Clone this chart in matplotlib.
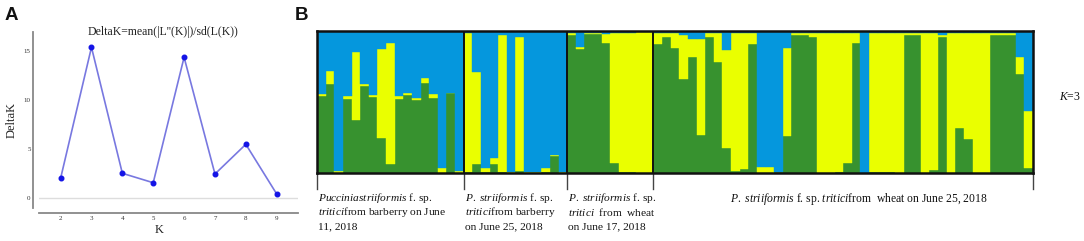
import matplotlib
matplotlib.use("Agg")
import matplotlib.pyplot as plt
import numpy as np

W, H = 1084, 241

plt.rcParams['font.family'] = ['Liberation Serif', 'DejaVu Serif']
plt.rcParams['mathtext.fontset'] = 'custom'
plt.rcParams['mathtext.rm'] = 'Liberation Serif'
plt.rcParams['mathtext.it'] = 'Liberation Serif:italic'

# panel A: Evanno DeltaK
k_values = [2, 3, 4, 5, 6, 7, 8, 9]
delta_k = [1.98, 15.35, 2.49, 1.53, 14.33, 2.42, 5.45, 0.38]

# panel B: STRUCTURE membership (K=3), per individual
group_sizes = [17, 12, 10, 44]
green_q = [
    # barberry, June 11
    0.545, 0.627, 0.0, 0.524, 0.376, 0.611, 0.536, 0.25, 0.066, 0.524, 0.548, 0.517, 0.632, 0.53, 0.0, 0.56, 0.0,
    # barberry, June 25
    0.01, 0.06, 0.01, 0.06, 0.01, 0.0, 0.012, 0.0, 0.0, 0.01, 0.12, 0.0,
    # wheat, June 17
    0.975, 0.875, 0.98, 0.98, 0.912, 0.07, 0.01, 0.005, 0.0, 0.0,
    # wheat, June 25
    0.91, 0.96, 0.88, 0.66, 0.815, 0.265, 0.96, 0.785, 0.176, 0.012, 0.025, 0.91, 0.0, 0.0, 0.01,
    0.26, 0.97, 0.97, 0.957, 0.0, 0.0, 0.01, 0.07, 0.915, 0.0, 0.005, 0.01, 0.01, 0.0, 0.97,
    0.972, 0.0, 0.02, 0.957, 0.0, 0.32, 0.236, 0.0, 0.0, 0.975, 0.975, 0.975, 0.70, 0.035,
]
yellow_q = [
    0.01, 0.09, 0.012, 0.021, 0.478, 0.019, 0.014, 0.625, 0.851, 0.021, 0.017, 0.013, 0.038, 0.027, 0.035, 0.005, 0.012,
    0.975, 0.65, 0.025, 0.046, 0.96, 0.01, 0.943, 0.01, 0.01, 0.025, 0.01, 0.01,
    0.01, 0.012, 0.005, 0.005, 0.068, 0.915, 0.975, 0.98, 0.99, 0.99,
    0.075, 0.025, 0.105, 0.31, 0.13, 0.68, 0.025, 0.2, 0.69, 0.973, 0.96, 0.075, 0.045, 0.045, 0.0,
    0.62, 0.015, 0.015, 0.028, 0.985, 0.985, 0.975, 0.915, 0.07, 0.0, 0.98, 0.975, 0.975, 0.985, 0.015,
    0.013, 0.985, 0.965, 0.018, 0.985, 0.665, 0.749, 0.985, 0.985, 0.01, 0.01, 0.01, 0.115, 0.405,
]

C_GREEN, C_YELLOW, C_BLUE = '#37922f', '#eaff00', '#0597dd'


def px(x, y):
    return x / W, 1 - y / H


fig = plt.figure(figsize=(W / 100, H / 100), dpi=100)

# ---- panel A ----
axA = fig.add_axes([39.3 / W, 1 - 213.3 / H, (298 - 39.3) / W, (213.3 - 31.7) / H])
axA.axhline(0, color='#dddddd', lw=1, zorder=0)
axA.plot(k_values, delta_k, color='#7878e0', lw=1.2, marker='o', ms=3.3,
         mfc='#1414e6', mec='#1414e6', zorder=3)
axA.set_xlim(1.31, 9.69)
axA.set_ylim(-1.59, 16.94)
for s in ['top', 'right']:
    axA.spines[s].set_visible(False)
axA.spines['left'].set_position(('outward', 4.3))
axA.spines['left'].set_bounds(-1.05, 16.94)
for s in ['left', 'bottom']:
    axA.spines[s].set_color('#888888')
    axA.spines[s].set_linewidth(1.3)
axA.set_xticks(k_values)
axA.set_yticks([0, 5, 10, 15])
axA.tick_params(length=0, labelsize=5, colors='#333333', pad=2)
axA.patch.set_alpha(0)

fig.text(*px(163, 31.5), "DeltaK=mean(|L''(K)|)/sd(L(K))", ha='center', va='center',
         fontsize=8.5, color='#222222')
fig.text(*px(11.5, 120), 'DeltaK', rotation=90, ha='center', va='center', fontsize=9, color='#222222')
fig.text(*px(159, 230), 'K', ha='center', va='center', fontsize=9, color='#222222')

fig.text(*px(11, 15), 'A', ha='center', va='center', fontsize=13.5, fontweight='bold',
         family='Liberation Sans', color='#111111')
fig.text(*px(302, 15), 'B', ha='center', va='center', fontsize=13.5, fontweight='bold',
         family='Liberation Sans', color='#111111')

# ---- panel B ----
green = np.array(green_q)
yellow = np.array(yellow_q)
blue = np.clip(1 - green - yellow, 0, 1)
idx = np.arange(len(green))

axB = fig.add_axes([317 / W, 1 - 173 / H, (1033 - 317) / W, (173 - 31) / H])
axB.bar(idx, green, width=1.0, color=C_GREEN, linewidth=0.3, edgecolor=C_GREEN)
axB.bar(idx, yellow, bottom=green, width=1.0, color=C_YELLOW, linewidth=0.3, edgecolor=C_YELLOW)
axB.bar(idx, blue, bottom=green + yellow, width=1.0, color=C_BLUE, linewidth=0.3, edgecolor=C_BLUE)
axB.set_xlim(-0.5, len(green) - 0.5)
axB.set_ylim(0, 1)
axB.set_xticks([])
axB.set_yticks([])
for s in axB.spines.values():
    s.set_linewidth(1.8)
    s.set_color('#111111')

bounds = np.concatenate([[0], np.cumsum(group_sizes)]) - 0.5
for b in bounds[1:-1]:
    axB.axvline(b, color='#111111', lw=1.4)
for b in bounds:
    axB.plot([b, b], [0, -0.11], color='#444444', lw=1, clip_on=False)

fs = 8.2
lines1 = [r'$\mathit{Pucciniastriiformis}$ f. sp.',
          r'$\mathit{tritici}$from barberry on June',
          '11, 2018']
lines2 = [r'$\mathit{P.}$ $\mathit{striiformis}$ f. sp.',
          r'$\mathit{tritici}$from barberry',
          'on June 25, 2018']
lines3 = [r'$\mathit{P.}$ $\mathit{striiformis}$ f. sp.',
          r'$\mathit{tritici}$  from  wheat',
          'on June 17, 2018']
for x0, lines in [(318, lines1), (465, lines2), (568, lines3)]:
    for i, t in enumerate(lines):
        fig.text(*px(x0, 198 + 14.2 * i), t, ha='left', va='center', fontsize=fs, color='#111111')

fig.text(*px(859, 199), r'$\mathit{P.}$ $\mathit{striiformis}$ f. sp. $\mathit{tritici}$from  wheat on June 25, 2018',
         ha='center', va='center', fontsize=8.4, color='#111111')
fig.text(*px(1070, 97), r'$\mathit{K}$=3', ha='center', va='center', fontsize=8.5, color='#111111')

fig.savefig('out.png', dpi=100)
